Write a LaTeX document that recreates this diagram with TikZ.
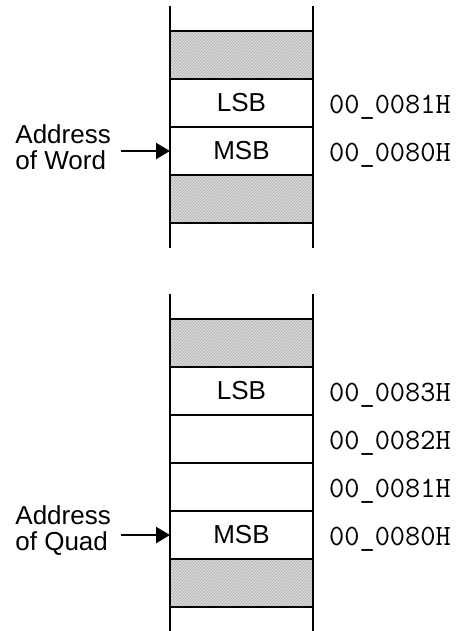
\documentclass[tikz,border=0pt]{standalone}
\usepackage{fontspec}
\setmainfont{Liberation Sans}
\usetikzlibrary{positioning, arrows.meta, patterns}

\tikzset{
    cell/.style={draw, line width=2.3pt, minimum width=143pt, minimum height=48pt,
        outer sep=0pt, inner sep=0pt, font=\fontsize{26}{27}\selectfont},
    hatched/.style={preaction={fill=gray!28}, pattern=north east lines, pattern color=gray!65},
    addr/.style={anchor=west, inner sep=0pt, font=\ttfamily\fontsize{29.5}{30}\selectfont},
    lbl/.style={align=left, inner sep=0pt, font=\fontsize{26}{26}\selectfont},
    ptr/.style={line width=2.5pt, -{Triangle[length=14pt,width=16pt]}},
    stub/.style={line width=2.3pt}
}

\begin{document}
\begin{tikzpicture}[x=1pt, y=-1pt]
        \useasboundingbox (0,0) rectangle (459,631);

        \node[cell, hatched] (w0) at (241.5,55) {};
        \node[cell, below=0pt of w0] (w1) {LSB};
        \node[cell, below=0pt of w1] (w2) {MSB};
        \node[cell, hatched, below=0pt of w2] (w3) {};

        \node[addr, right=16pt of w1, yshift=-4pt] (a1) {00\_0081H};
        \node[addr, right=16pt of w2, yshift=-4pt] (a0) {00\_0080H};

        \coordinate[left=49pt of w2.west] (s1);
        \node[lbl, left=10pt of s1, yshift=4pt] (l1) {Address\\of Word};

        \node[cell, hatched] (q0) at (241.5,343) {};
        \node[cell, below=0pt of q0] (q1) {LSB};
        \node[cell, below=0pt of q1] (q2) {};
        \node[cell, below=0pt of q2] (q3) {};
        \node[cell, below=0pt of q3] (q4) {MSB};
        \node[cell, hatched, below=0pt of q4] (q5) {};

        \node[addr, right=16pt of q1, yshift=-4pt] (b3) {00\_0083H};
        \node[addr, right=16pt of q2, yshift=-4pt] (b2) {00\_0082H};
        \node[addr, right=16pt of q3, yshift=-4pt] (b1) {00\_0081H};
        \node[addr, right=16pt of q4, yshift=-4pt] (b0) {00\_0080H};

        \coordinate[left=49pt of q4.west] (s2);
        \node[lbl, left=10pt of s2, yshift=4pt] (l2) {Address\\of Quad};

        \draw[stub]
            (w0.north west) -- ++(0,-25)
            (w0.north east) -- ++(0,-25)
            (w3.south west) -- ++(0,25)
            (w3.south east) -- ++(0,25)
            (q0.north west) -- ++(0,-25)
            (q0.north east) -- ++(0,-25)
            (q5.south west) -- ++(0,24)
            (q5.south east) -- ++(0,24)
            ;
        \draw[ptr] (s1) -- (w2.west);
        \draw[ptr] (s2) -- (q4.west);
    \end{tikzpicture}
\end{document}
